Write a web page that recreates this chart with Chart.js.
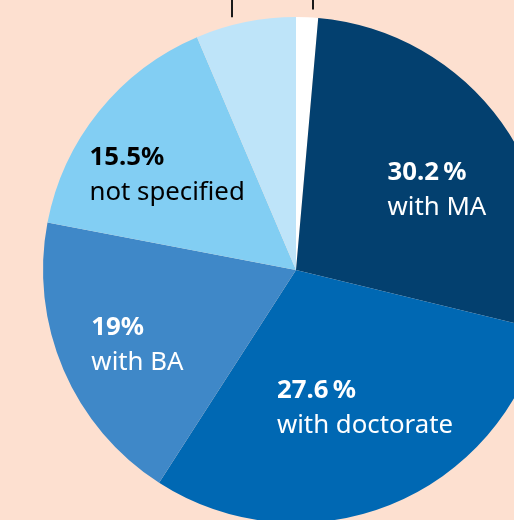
<!DOCTYPE html>
<html>
<head>
<meta charset="utf-8">
<script src="https://cdn.jsdelivr.net/npm/chart.js@4/dist/chart.umd.min.js"></script>
<style>
  html, body { margin: 0; padding: 0; overflow: hidden; background: #fde0d0; }
  body { width: 514px; height: 520px; position: relative; }
  #pie { position: absolute; left: 0; top: 0; }
</style>
</head>
<body>
<canvas id="pie" width="600" height="560"></canvas>
<script>
// slice order, clockwise from 12 o'clock (sizes as drawn in the picture)
const categories = ['', 'with MA', 'with doctorate', 'with BA', 'not specified', ''];
const shares = [1.4, 27.4, 30.3, 18.9, 15.6, 6.4];
const pctLabels = ['', '30.2\u2009%', '27.6\u2009%', '19%', '15.5%', ''];
const sliceColors = ['#ffffff', '#03406f', '#0068b3', '#3f88c8', '#82cef3', '#bee4f9'];
const textColors = ['#000', '#fff', '#fff', '#fff', '#000', '#000'];

// label placement: extra angle (deg) from slice middle, distance as share of radius
const labelTurn = [0, 5.5, -5.1, -1.5, -2.1, 0];
const labelDist = [0, 0.644, 0.603, 0.69, 0.636, 0];
// leader lines to labels outside the crop (slice index, position along arc)
const leaders = [[0, 0.77], [5, 0.36]];

const FONT = '25.8px "Noto Sans"';
const FONT_BOLD = 'bold 25.8px "Noto Sans"';

const sliceText = {
  id: 'sliceText',
  afterDatasetsDraw(chart) {
    const ctx = chart.ctx;
    const arcs = chart.getDatasetMeta(0).data;
    ctx.save();
    arcs.forEach((arc, i) => {
      if (!pctLabels[i]) return;
      const p = arc.getProps(['x', 'y', 'startAngle', 'endAngle', 'outerRadius'], true);
      const a = (p.startAngle + p.endAngle) / 2 + labelTurn[i] * Math.PI / 180;
      const px = p.x + Math.cos(a) * p.outerRadius * labelDist[i];
      const py = p.y + Math.sin(a) * p.outerRadius * labelDist[i];
      ctx.font = FONT_BOLD;
      const w1 = ctx.measureText(pctLabels[i]).width;
      ctx.font = FONT;
      const w2 = ctx.measureText(categories[i]).width;
      const left = px - Math.max(w1, w2) / 2;
      const base = py - 8.5;
      ctx.fillStyle = textColors[i];
      ctx.textAlign = 'left';
      ctx.textBaseline = 'alphabetic';
      ctx.font = FONT_BOLD;
      ctx.fillText(pctLabels[i], left, base);
      ctx.font = FONT;
      ctx.fillText(categories[i], left, base + 35);
    });
    // leader lines
    ctx.strokeStyle = '#1a1a1a';
    ctx.lineWidth = 2;
    leaders.forEach(([i, f]) => {
      const p = arcs[i].getProps(['x', 'y', 'startAngle', 'endAngle', 'outerRadius'], true);
      const a = p.startAngle + f * (p.endAngle - p.startAngle);
      const x = Math.round(p.x + Math.cos(a) * p.outerRadius);
      const yEdge = p.y + Math.sin(a) * p.outerRadius;
      ctx.beginPath();
      ctx.moveTo(x, 0);
      ctx.lineTo(x, yEdge - 8);
      ctx.stroke();
    });
    ctx.restore();
  }
};

new Chart(document.getElementById('pie'), {
  type: 'pie',
  data: {
    labels: categories,
    datasets: [{
      data: shares,
      backgroundColor: sliceColors,
      borderWidth: 0
    }]
  },
  options: {
    responsive: false,
    animation: false,
    layout: { padding: { left: 43, top: 17, right: 51, bottom: 37 } },
    plugins: {
      legend: { display: false },
      tooltip: { enabled: false }
    }
  },
  plugins: [sliceText]
});
</script>
</body>
</html>
